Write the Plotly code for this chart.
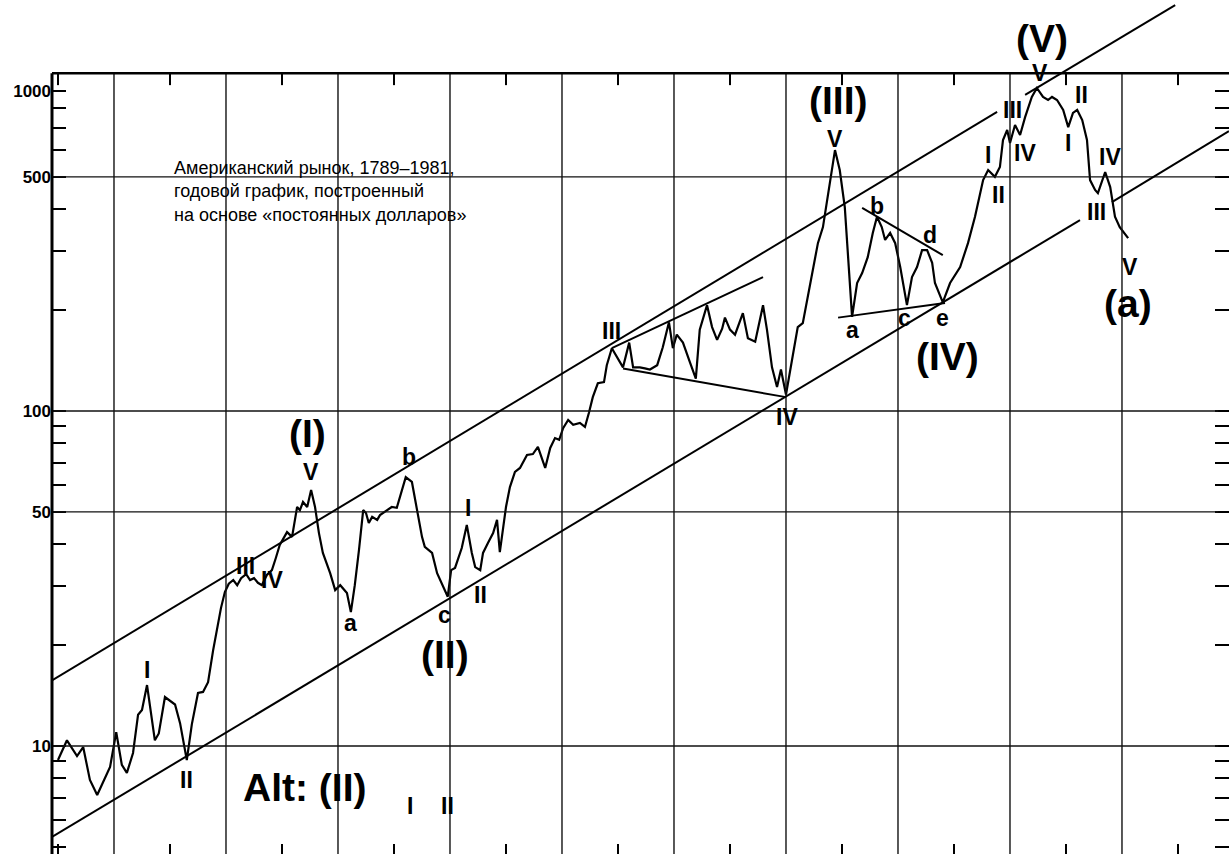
import plotly.graph_objects as go
import math

# ---------------- data ----------------
years = [1790.0, 1791.6, 1793.4, 1794.5, 1795.7, 1797.0, 1799.3, 1800.4, 1801.4, 1802.3,
         1803.4, 1804.3, 1805.0, 1805.9, 1807.3, 1808.0, 1809.1, 1810.9, 1811.8, 1813.0,
         1813.9, 1815.0, 1815.9, 1816.8, 1817.7, 1818.4, 1819.1, 1819.8, 1820.5, 1821.3,
         1822.0, 1822.7, 1823.6, 1824.3, 1825.0, 1825.7, 1826.4, 1827.3, 1828.2, 1828.9,
         1829.6, 1830.9, 1831.8, 1832.7, 1833.2, 1833.75, 1834.5, 1835.2, 1835.9, 1836.6,
         1837.3, 1838.6, 1839.5, 1840.4, 1841.6, 1842.3, 1843.0, 1843.75, 1844.5, 1845.0,
         1845.5, 1846.1, 1847.0, 1847.5, 1848.75, 1849.6, 1850.5, 1851.1, 1852.1, 1853.2,
         1854.1, 1855.0, 1855.5, 1856.8, 1857.7, 1858.75, 1859.6, 1860.2, 1860.9, 1862.1,
         1863.0, 1863.9, 1864.5, 1865.4, 1865.9, 1866.8, 1867.7, 1868.4, 1868.9, 1870.0,
         1870.7, 1871.6, 1872.5, 1873.75, 1874.8, 1875.7, 1877.0, 1877.9, 1878.75, 1879.5,
         1880.2, 1881.1, 1882.0, 1883.2, 1884.1, 1884.8, 1885.5, 1886.4, 1887.5, 1888.0,
         1888.9, 1890.9, 1892.0, 1892.7, 1893.9, 1894.8, 1895.7, 1897.0, 1898.0, 1899.1,
         1899.8, 1900.5, 1901.6, 1902.9, 1903.9, 1904.6, 1905.9, 1906.8, 1907.7, 1908.6,
         1909.1, 1910.0, 1910.9, 1912.3, 1913.2, 1914.5, 1915.9, 1916.6, 1917.5, 1918.4,
         1919.1, 1920.0, 1920.7, 1922.1, 1923.0, 1924.3, 1925.7, 1926.6, 1928.2, 1928.75,
         1929.6, 1930.5, 1931.8, 1932.7, 1933.6, 1934.6, 1935.5, 1936.25, 1937.1, 1937.7,
         1938.6, 1939.5, 1940.4, 1941.6, 1942.5, 1943.4, 1944.3, 1945.2, 1946.1, 1946.6,
         1948.0, 1949.3, 1951.1, 1952.5, 1953.75, 1955.2, 1956.1, 1957.3, 1958.2, 1958.75,
         1959.5, 1960.0, 1960.9, 1961.8, 1962.7, 1963.9, 1964.8, 1965.9, 1966.8, 1967.5,
         1968.4, 1969.5, 1970.4, 1971.25, 1972.0, 1972.9, 1973.75, 1974.3, 1975.2, 1975.7,
         1977.0, 1977.9, 1978.75, 1979.6, 1981.1]

index_values = [9.08, 10.4, 9.33, 9.93, 7.92, 7.14, 8.66, 11.0, 8.78, 8.31,
                9.53, 12.4, 12.8, 15.2, 10.4, 10.9, 14.0, 13.3, 11.7, 9.08,
                11.6, 14.4, 14.5, 15.5, 19.3, 22.5, 25.8, 28.8, 30.5, 31.3,
                30.2, 31.7, 32.6, 31.3, 31.7, 30.7, 30.2, 32.4, 33.5, 36.4,
                39.8, 43.5, 42.1, 51.7, 50.6, 53.5, 51.7, 58.1, 51.7, 43.2,
                37.7, 32.8, 29.2, 30.2, 28.6, 25.1, 30.2, 38.5, 50.6, 49.6,
                46.3, 48.3, 47.3, 48.9, 50.6, 51.7, 51.4, 55.4, 63.5, 61.4,
                50.6, 42.1, 39.3, 37.7, 32.8, 29.8, 27.9, 33.5, 34.0, 39.0,
                45.7, 37.7, 34.2, 33.5, 37.7, 40.4, 43.2, 47.3, 37.9, 51.7,
                59.3, 65.8, 67.6, 73.9, 74.4, 78.1, 67.6, 77.6, 83.0, 82.0,
                88.9, 94.0, 90.9, 92.1, 89.6, 98.6, 110, 121, 122, 137,
                154, 135, 160, 135, 135, 134, 133, 137, 155, 184,
                154, 169, 160, 139, 125, 175, 207, 178, 163, 176,
                190, 175, 169, 196, 165, 161, 207, 175, 135, 118,
                133, 112, 130, 178, 183, 241, 317, 354, 513, 601,
                524, 406, 191, 241, 258, 288, 340, 380, 354, 324,
                340, 317, 269, 207, 251, 269, 302, 302, 277, 241,
                211, 241, 269, 317, 380, 489, 524, 500, 535, 644,
                690, 631, 714, 667, 754, 866, 921, 866, 848, 866,
                848, 792, 704, 776, 792, 739, 644, 489, 457, 447,
                517, 466, 380, 354, 328]

# channel and pattern lines: (year0, value0, year1, value1)
upper_channel = [(1788.93, 15.7, 1957.7, 781), (1962.7, 878, 1989.5, 1629)]
lower_channel = [(1788.93, 5.35, 1972.5, 371.5), (1978.2, 420, 1999.1, 685)]
pattern_lines = [(1888.9, 154, 1915.9, 251),   # wedge top
                 (1890.9, 134, 1920.0, 110),   # wedge bottom
                 (1929.3, 190, 1948.4, 210),   # triangle a-c-e
                 (1933.6, 404, 1948.0, 292)]   # triangle b-d

grid_years = [1800, 1820, 1840, 1860, 1880, 1900, 1920, 1940, 1960, 1980]
mid_years = [1790, 1810, 1830, 1850, 1870, 1890, 1910, 1930, 1950, 1970, 1990]
grid_values = [10, 50, 100, 500]

y_tickvals = [5, 6, 7, 8, 9, 10, 20, 30, 40, 50, 60, 70, 80, 90, 100,
              200, 300, 400, 500, 600, 700, 800, 900]
y_ticktext = ['', '', '', '', '', '10', '', '', '', '50', '', '', '', '', '100',
              '', '', '', '500', '', '', '', '1000']

small_labels = [  # (text, year, value)
    ('I', 1805.9, 16.9), ('II', 1813.0, 7.92), ('III', 1823.4, 34.5), ('IV', 1828.2, 31.3),
    ('V', 1835.2, 65.8), ('a', 1842.3, 23.3), ('b', 1852.7, 72.9), ('c', 1859.1, 24.6),
    ('I', 1863.2, 51.3), ('II', 1865.4, 28.2), ('III', 1888.9, 173), ('IV', 1920.2, 95.9),
    ('V', 1928.75, 650), ('a', 1931.8, 174.5), ('b', 1936.25, 409), ('c', 1941.25, 190),
    ('d', 1945.7, 335), ('e', 1948.0, 190), ('I', 1956.1, 581), ('II', 1957.9, 441),
    ('III', 1960.5, 792), ('IV', 1962.7, 589), ('V', 1965.4, 1021), ('II', 1972.7, 878),
    ('I', 1970.4, 631), ('IV', 1977.9, 573), ('III', 1975.5, 393), ('V', 1981.4, 269),
    ('I', 1852.9, 6.62), ('II', 1859.6, 6.62)]

big_labels = [
    ('(I)', 1834.6, 85.4), ('(II)', 1859.1, 18.7), ('(III)', 1929.3, 845),
    ('(IV)', 1948.9, 145), ('(V)', 1965.7, 1290), ('(a)', 1981.1, 210),
    ('Alt: (II)', 1834.1, 7.54)]

note_text = ('Американский рынок, 1789–1981,<br>годовой график, построенный'
             '<br>на основе «постоянных долларов»')
note_pos = (1810.4, 451)

# ---------------- figure ----------------
x_range = [1788.93, 1999.11]
y_range_log = [0.6776, 3.2269]
y_min = 10 ** y_range_log[0]
top_value = 1020
grid_right = 1997.2

fig = go.Figure()
fig.add_trace(go.Scatter(x=years, y=index_values, mode='lines',
                         line=dict(color='black', width=2.2), hoverinfo='skip'))

shapes = []
for yr in grid_years:
    shapes.append(dict(type='line', xref='x', yref='y', x0=yr, x1=yr, y0=y_min, y1=top_value,
                       line=dict(color='#111', width=1.4)))
for v in grid_values:
    shapes.append(dict(type='line', xref='x', yref='y', x0=x_range[0], x1=grid_right, y0=v, y1=v,
                       line=dict(color='#111', width=1.4)))
# frame: left axis and top border
shapes.append(dict(type='line', xref='paper', yref='y', x0=0, x1=0, y0=y_min, y1=top_value,
                   line=dict(color='black', width=3)))
shapes.append(dict(type='line', xref='paper', yref='y', x0=0, x1=1, y0=top_value, y1=top_value,
                   line=dict(color='black', width=2.5)))
tick_drop = 10 ** (12 / 335)
for yr in mid_years:
    shapes.append(dict(type='line', xref='x', yref='y', x0=yr, x1=yr, y0=top_value,
                       y1=top_value / tick_drop, line=dict(color='black', width=2)))
for seg in upper_channel + lower_channel + pattern_lines:
    shapes.append(dict(type='line', xref='x', yref='y', x0=seg[0], y0=seg[1], x1=seg[2], y1=seg[3],
                       line=dict(color='black', width=2)))

LABEL_FONT = 'Liberation Sans, Arial, sans-serif'
annotations = []
for t, x, y in small_labels:
    annotations.append(dict(text=t, x=x, y=math.log10(y), xref='x', yref='y', showarrow=False,
                            font=dict(family=LABEL_FONT, size=23, color='black', weight='bold'),
                            xanchor='center', yanchor='middle'))
for t, x, y in big_labels:
    annotations.append(dict(text=t, x=x, y=math.log10(y), xref='x', yref='y', showarrow=False,
                            font=dict(family=LABEL_FONT, size=39, color='black', weight='bold'),
                            xanchor='center', yanchor='middle'))
annotations.append(dict(text=note_text, x=note_pos[0], y=math.log10(note_pos[1]), xref='x', yref='y',
                        showarrow=False, align='left', xanchor='left', yanchor='middle',
                        font=dict(family=LABEL_FONT, size=18, color='black')))

fig.update_layout(
    width=1229, height=854,
    margin=dict(l=52, r=0, t=0, b=0, autoexpand=False),
    paper_bgcolor='white', plot_bgcolor='white',
    showlegend=False,
    shapes=shapes, annotations=annotations,
    xaxis=dict(range=x_range, tickmode='array', tickvals=mid_years, ticks='inside', ticklen=10,
               tickwidth=2, tickcolor='black', showticklabels=False, showgrid=False,
               zeroline=False, showline=False, automargin=False),
    yaxis=dict(type='log', range=y_range_log, tickmode='array', tickvals=y_tickvals,
               ticktext=y_ticktext, ticks='inside', ticklen=14, tickwidth=2, tickcolor='black',
               mirror='ticks', showline=False, showgrid=False, zeroline=False, automargin=False,
               tickfont=dict(family='Liberation Sans, Arial, sans-serif', size=17,
                             color='black', weight='bold')),
)

fig.write_html('out.html', config={'displayModeBar': False},
               post_script="document.body.style.margin='0';document.body.style.overflow='hidden';")
